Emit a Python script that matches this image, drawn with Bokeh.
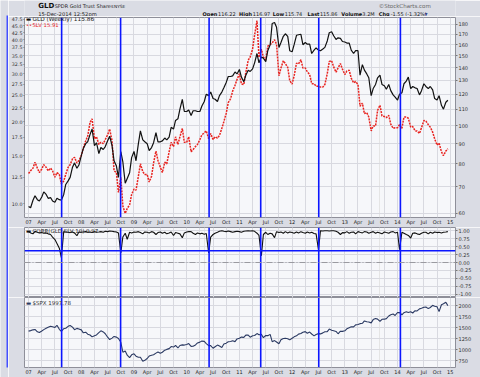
from bokeh.plotting import figure
from bokeh.models import (Range1d, LogScale, LogAxis, LinearAxis, FixedTicker,
                          NumeralTickFormatter, Span, Label, BoxAnnotation, Grid)
from bokeh.layouts import column, row
from bokeh.embed import file_html
from bokeh.resources import INLINE

# ---------------- data (semi-monthly readings: 1st and 15th of each month) ----------------
YEARS = list(range(2007, 2015))
DATES = [(y, m, d) for y in YEARS for m in range(1, 13) for d in (1, 15)]

GLD = [
    62.5, 62.0, 64.8, 66.5, 65.0, 64.5, 66.0, 68.0, 67.0, 65.5, 65.8, 64.5,
    64.0, 65.5, 65.0, 64.8, 67.0, 71.0, 72.5, 74.0, 78.5, 80.5, 78.0, 79.5,
    84.0, 87.5, 90.0, 91.0, 95.0, 98.0, 89.0, 90.5, 85.0, 88.0, 87.0, 88.5,
    91.5, 94.0, 89.0, 81.5, 79.0, 74.0, 86.0, 81.0, 71.5, 73.5, 76.0, 83.0,
    86.0, 81.5, 90.0, 97.0, 92.0, 91.0, 90.0, 86.5, 88.0, 90.5, 96.0, 91.0,
    91.0, 91.5, 93.0, 92.0, 93.5, 99.0, 98.0, 103.0, 104.0, 110.0, 116.5, 108.5,
    108.5, 109.5, 106.0, 109.0, 109.0, 108.5, 108.5, 112.0, 115.0, 120.0, 119.0, 121.5,
    117.0, 116.5, 115.0, 119.0, 121.5, 124.5, 128.5, 133.0, 133.0, 133.5, 136.5, 135.0,
    138.5, 132.5, 129.0, 134.0, 138.0, 137.0, 139.0, 144.0, 152.0, 144.0, 149.0, 148.0,
    145.0, 154.5, 160.0, 181.0, 182.0, 177.0, 157.5, 162.0, 168.0, 170.5, 168.0, 154.5,
    153.5, 160.0, 169.0, 169.5, 170.0, 160.0, 162.0, 160.5, 160.5, 152.0, 155.0, 157.0,
    155.0, 154.5, 156.0, 157.5, 163.5, 171.5, 172.5, 168.5, 165.0, 166.5, 166.0, 163.0,
    162.5, 161.5, 161.5, 155.0, 152.0, 154.5, 154.5, 134.0, 142.5, 138.0, 135.0, 132.0,
    119.0, 124.0, 127.0, 132.0, 134.0, 127.0, 126.0, 123.5, 127.0, 122.5, 119.5, 118.0,
    116.0, 120.0, 121.0, 127.5, 129.5, 132.5, 124.0, 125.5, 124.5, 124.0, 119.5, 122.5,
    127.5, 125.5, 124.0, 125.5, 123.0, 117.0, 116.0, 119.0, 112.5, 110.0, 114.5, 115.86,
]

SLV = [
    12.9, 13.2, 13.5, 14.2, 13.5, 13.0, 13.4, 13.9, 13.6, 13.2, 13.5, 13.2,
    12.5, 13.0, 12.8, 11.8, 12.1, 12.8, 13.6, 13.9, 14.6, 14.8, 14.1, 14.4,
    15.0, 16.0, 17.0, 17.7, 19.9, 20.5, 17.3, 17.6, 16.5, 16.8, 16.6, 17.2,
    17.9, 18.8, 17.0, 13.2, 13.0, 11.0, 12.5, 9.8, 9.2, 9.6, 9.9, 10.8,
    11.3, 11.2, 12.6, 14.0, 13.1, 12.8, 12.8, 12.0, 12.6, 14.1, 15.6, 14.4,
    13.6, 13.0, 14.2, 14.0, 15.5, 16.8, 16.2, 17.6, 16.5, 17.6, 18.9, 16.8,
    16.8, 17.6, 15.5, 15.8, 16.2, 16.5, 17.2, 17.9, 18.2, 18.5, 17.3, 18.1,
    17.2, 17.6, 17.4, 17.8, 18.9, 20.0, 21.5, 23.5, 24.3, 25.9, 27.2, 28.6,
    30.0, 27.5, 27.4, 30.3, 33.6, 34.6, 37.0, 41.6, 47.0, 34.5, 36.9, 34.6,
    33.7, 37.9, 38.4, 39.0, 40.0, 38.5, 29.5, 31.5, 33.5, 32.7, 31.7, 28.3,
    27.5, 29.5, 32.8, 32.6, 33.8, 31.5, 31.5, 30.5, 29.8, 27.6, 27.6, 27.0,
    27.0, 26.8, 26.8, 27.4, 30.0, 33.3, 33.5, 31.8, 30.4, 31.5, 32.7, 31.2,
    29.8, 30.7, 30.9, 28.9, 27.8, 28.1, 27.4, 22.8, 23.4, 21.4, 21.6, 20.8,
    18.5, 19.3, 19.3, 22.0, 23.0, 21.0, 20.9, 20.7, 21.1, 19.6, 18.9, 19.0,
    19.0, 19.5, 18.9, 20.8, 20.8, 20.6, 19.1, 19.2, 18.5, 18.5, 18.1, 19.0,
    20.2, 20.1, 19.5, 19.1, 18.3, 17.3, 16.4, 16.7, 15.5, 15.0, 15.6, 15.91,
]

CORR = [
    0.97, 0.93, 0.90, 0.98, 0.95, 0.93, 0.94, 0.92, 0.93, 0.90, 0.88, 0.80,
    0.72, 0.60, 0.45, 0.15, 0.97, 0.96, 0.95, 0.94, 0.96, 0.93, 0.84, 0.96,
    0.95, 0.96, 0.97, 0.95, 0.96, 0.94, 0.97, 0.95, 0.96, 0.97, 0.95, 0.98,
    0.97, 0.99, 0.98, 0.97, 0.96, 0.93, 0.30, 0.80, 0.92, 0.73, 0.95, 0.93,
    0.96, 0.95, 0.97, 0.94, 0.90, 0.96, 0.95, 0.93, 0.97, 0.95, 0.88, 0.94,
    0.96, 0.92, 0.95, 0.90, 0.93, 0.96, 0.85, 0.94, 0.92, 0.90, 0.78, 0.93,
    0.96, 0.97, 0.97, 0.92, 0.88, 0.93, 0.90, 0.92, 0.89, 0.91, 0.30, 0.80,
    0.88, 0.92, 0.95, 0.98, 1.00, 0.98, 0.97, 0.99, 0.97, 0.95, 0.97, 0.98,
    0.97, 0.95, 0.98, 0.99, 1.00, 0.99, 1.00, 0.98, 0.92, 0.85, 0.21, 0.88,
    0.95, 0.88, 0.92, 0.90, 0.78, 0.97, 0.94, 0.96, 0.92, 0.97, 0.93, 0.96,
    0.94, 0.92, 0.96, 0.93, 0.97, 0.94, 0.92, 0.96, 0.93, 0.95, 0.91, 0.90,
    0.40, 1.00, 0.99, 1.00, 1.00, 0.99, 1.00, 1.00, 0.98, 0.95, 0.88, 0.94,
    0.93, 0.97, 0.92, 0.95, 0.96, 0.90, 0.97, 0.95, 0.93, 0.97, 0.96, 0.92,
    0.95, 0.97, 0.92, 0.95, 0.93, 0.90, 0.96, 0.94, 0.92, 0.96, 0.97, 0.93,
    0.95, 0.40, 0.95, 0.92, 0.88, 0.85, 0.77, 0.92, 0.93, 0.90, 0.88, 0.92,
    0.95, 0.95, 0.90, 0.95, 0.92, 0.96, 0.94, 0.95, 0.93, 0.95, 0.96, 0.97,
]

SPX = [
    1418, 1430, 1448, 1456, 1403, 1386, 1421, 1453, 1483, 1505, 1530, 1520,
    1503, 1550, 1460, 1411, 1473, 1484, 1527, 1548, 1509, 1451, 1481, 1468,
    1447, 1380, 1395, 1349, 1331, 1288, 1316, 1332, 1385, 1425, 1400, 1360,
    1280, 1228, 1260, 1298, 1282, 1252, 1166, 940, 968, 873, 816, 880,
    903, 850, 826, 827, 735, 756, 797, 852, 873, 882, 919, 946,
    919, 940, 987, 1004, 1021, 1068, 1057, 1093, 1036, 1093, 1106, 1102,
    1115, 1136, 1073, 1075, 1105, 1150, 1169, 1192, 1186, 1136, 1089, 1092,
    1030, 1064, 1101, 1080, 1049, 1125, 1146, 1176, 1183, 1199, 1180, 1242,
    1258, 1283, 1276, 1330, 1327, 1280, 1313, 1319, 1363, 1337, 1345, 1270,
    1320, 1316, 1345, 1178, 1204, 1172, 1131, 1224, 1253, 1257, 1247, 1220,
    1258, 1289, 1312, 1351, 1365, 1395, 1408, 1370, 1397, 1353, 1310, 1342,
    1362, 1356, 1379, 1405, 1406, 1466, 1440, 1428, 1412, 1359, 1416, 1413,
    1426, 1472, 1498, 1519, 1515, 1561, 1570, 1588, 1597, 1650, 1630, 1626,
    1606, 1680, 1706, 1691, 1639, 1688, 1690, 1703, 1762, 1790, 1806, 1775,
    1842, 1839, 1790, 1838, 1859, 1841, 1857, 1830, 1883, 1877, 1924, 1936,
    1960, 1967, 1930, 1955, 2003, 1985, 1972, 1862, 2018, 2039, 2075, 1997.78,
]

EVENT_DATES = [(2007, 8, 17), (2008, 9, 30), (2010, 6, 4), (2011, 5, 27), (2012, 7, 3), (2014, 1, 21)]
CORR_LEVEL = 0.37

QUARTER_TICKS = list(range(0, 97, 3))
QUARTER_LABELS = ["07", "Apr", "Jul", "Oct", "08", "Apr", "Jul", "Oct", "09", "Apr", "Jul", "Oct",
                  "10", "Apr", "Jul", "Oct", "11", "Apr", "Jul", "Oct", "12", "Apr", "Jul", "Oct",
                  "13", "Apr", "Jul", "Oct", "14", "Apr", "Jul", "Oct", "15"]
GLD_TICKS = [60, 70, 80, 90, 100, 110, 120, 130, 140, 150, 160, 170, 180]
SLV_TICKS = [10, 12.5, 15, 17.5, 20, 22.5, 25, 27.5, 30, 32.5, 35, 37.5, 40, 42.5, 45, 47.5]
CORR_TICKS = [-1.0, -0.75, -0.5, -0.25, 0.0, 0.25, 0.5, 0.75, 1.0]
SPX_TICKS = [750, 1000, 1250, 1500, 1750, 2000]


def month_pos(y, m, d):
    return (y - 2007) * 12 + (m - 1) + (d - 1) / 30.5


X = [month_pos(*t) for t in DATES]
EVENTS = [month_pos(*t) for t in EVENT_DATES]

# ---------------- styling ----------------
FONT = "DejaVu Sans"
BG = "#f6f7fa"
BORDER = "#dadce4"
GRID = "#d8d9e0"
OUTLINE = "#8e8f99"
BLUE = "#0b16ff"
TICK_FS = "5px"
STRIP_W = 8
W, LB, RB = 472, 14, 25

xr = Range1d(-0.93, 97.2)


def style_axis(ax, fs=TICK_FS):
    ax.axis_line_color = None
    ax.major_tick_in = 0
    ax.major_tick_out = 2
    ax.minor_tick_in = 0
    ax.minor_tick_out = 0
    ax.major_tick_line_color = "#777777"
    ax.major_label_text_font = FONT
    ax.major_label_text_font_size = fs
    ax.major_label_text_color = "#333333"
    ax.major_label_standoff = 1


def base(height, top, bottom, y_range, y_type="linear"):
    p = figure(width=W, height=height, x_range=xr, y_range=y_range, y_axis_type=y_type,
               x_axis_location=None, y_axis_location="right", output_backend="svg",
               toolbar_location=None, min_border_left=LB, min_border_right=RB,
               min_border_top=top, min_border_bottom=bottom)
    p.background_fill_color = BG
    p.border_fill_color = BORDER
    p.outline_line_color = OUTLINE
    p.add_layout(Grid(dimension=0, ticker=FixedTicker(ticks=QUARTER_TICKS),
                      grid_line_color=GRID, grid_line_width=1))
    p.ygrid.grid_line_color = GRID
    for ax in p.right:
        style_axis(ax)
    for ex in EVENTS:
        p.add_layout(Span(location=ex, dimension="height", line_color=BLUE, line_width=1.6))
    return p


def bottom_axis(p):
    ax = LinearAxis(ticker=FixedTicker(ticks=QUARTER_TICKS),
                    major_label_overrides={t: lab for t, lab in zip(QUARTER_TICKS, QUARTER_LABELS)})
    style_axis(ax)
    ax.major_tick_out = 0
    ax.major_label_text_color = "#222222"
    p.add_layout(ax, "below")


def lab(p, x, y, text, size=5.5, color="#222222", bold=False, align="left", units="screen"):
    p.add_layout(Label(x=x, y=y, x_units=units, y_units=units, text=text,
                       text_font=FONT, text_font_size=f"{size}px", text_color=color,
                       text_font_style="bold" if bold else "normal",
                       text_baseline="middle", text_align=align))


# ---------------- left strip with the blue marker line ----------------
strip = figure(width=STRIP_W, height=377, x_range=Range1d(0, STRIP_W), y_range=Range1d(377, 0),
               x_axis_location=None, y_axis_location=None, output_backend="svg",
               toolbar_location=None, min_border=0)
strip.outline_line_color = None
strip.background_fill_color = BORDER
strip.border_fill_color = BORDER
strip.grid.visible = False
strip.add_layout(BoxAnnotation(left=6, right=8, top=15, bottom=367,
                               fill_color="#4450ff", fill_alpha=1, line_alpha=0))

# ---------------- header ----------------
hdr = figure(width=W, height=16, x_range=Range1d(STRIP_W, 480), y_range=Range1d(16, 0),
             x_axis_location=None, y_axis_location=None, output_backend="svg",
             toolbar_location=None, min_border=0)
hdr.outline_line_color = None
hdr.background_fill_color = BORDER
hdr.border_fill_color = BORDER
hdr.grid.visible = False
lab(hdr, 23, 5.5, "GLD", size=7, color="#111111", bold=True, units="data")
lab(hdr, 41, 5.8, "SPDR Gold Trust Shares", size=5, units="data")
lab(hdr, 106, 6.0, "NYSE", size=4.3, units="data")
lab(hdr, 453, 5.0, "\u00a9StockCharts.com", size=5.5, color="#666666", align="right", units="data")
lab(hdr, 23, 13.0, "15-Dec-2014 12:52pm", size=5.2, units="data")
QUOTE = [("Open", "116.22", 203, 220), ("High", "116.97", 243, 258),
         ("Low", "115.74", 280, 293), ("Last", "115.86", 318, 331.5),
         ("Volume", "3.2M", 355, 378), ("Chg", "-1.55 (-1.32%)", 396, 409)]
for name, val, xa, xb in QUOTE:
    lab(hdr, xa, 13.0, name, size=5, color="#111111", bold=True, units="data")
    lab(hdr, xb, 13.0, val, size=5, color="#222222", units="data")
lab(hdr, 446, 13.0, "\u25BE", size=6, color="#3a4a8a", units="data")

# ---------------- panel 1: GLD & SLV ----------------
p1 = base(211, 1, 8, Range1d(58.6, 187.4), "log")
p1.extra_y_ranges = {"slv": Range1d(8.89, 48.3)}
p1.extra_y_scales = {"slv": LogScale()}
p1.right[0].ticker = FixedTicker(ticks=GLD_TICKS)
p1.right[0].formatter = NumeralTickFormatter(format="0")
p1.ygrid.ticker = FixedTicker(ticks=GLD_TICKS)
left_ax = LogAxis(y_range_name="slv", ticker=FixedTicker(ticks=SLV_TICKS),
                  formatter=NumeralTickFormatter(format="0.0"))
style_axis(left_ax, fs="4.8px")
left_ax.major_tick_out = 1
p1.add_layout(left_ax, "left")
bottom_axis(p1)

p1.line(X, SLV, y_range_name="slv", line_color="#e8231f", line_width=1.5, line_dash="2 1")
p1.line(X, GLD, line_color="#111111", line_width=1.2)

lab(p1, 1.5, 199, "\u25AC", size=5.5, color="#111111")
lab(p1, 8, 199, "GLD (Weekly) 115.86", size=5.8, color="#222222")
lab(p1, 1.5, 193, "\u2022\u2022", size=5, color="#e8231f")
lab(p1, 8, 193, "SLV 15.91", size=5.3, color="#e8231f")

# ---------------- panel 2: correlation ----------------
p2 = base(70, 0, 0, Range1d(-1.1, 1.1))
p2.right[0].ticker = FixedTicker(ticks=CORR_TICKS)
p2.right[0].formatter = NumeralTickFormatter(format="0.00")
p2.ygrid.ticker = FixedTicker(ticks=CORR_TICKS)
p2.add_layout(Span(location=0, dimension="width", line_color="#9a9aa0", line_width=1, line_dash="6 2 1 2"))
p2.add_layout(Span(location=CORR_LEVEL, dimension="width", line_color=BLUE, line_width=1.6))
p2.line(X, CORR, line_color="#111111", line_width=1.1)
lab(p2, 1.5, 66.5, "\u25AC", size=5.5, color="#111111")
lab(p2, 8, 66.5, "CORR(GLD,SLV,10) 0.97", size=5.5, color="#222222")

# ---------------- panel 3: S&P 500 ----------------
p3 = base(80, 0, 10, Range1d(593, 2182))
p3.right[0].ticker = FixedTicker(ticks=SPX_TICKS)
p3.right[0].formatter = NumeralTickFormatter(format="0")
p3.ygrid.ticker = FixedTicker(ticks=SPX_TICKS)
bottom_axis(p3)
p3.line(X, SPX, line_color="#2b3a63", line_width=1.1)
lab(p3, 1.5, 65.0, "\u25AC", size=5.5, color="#2b3a63")
lab(p3, 8, 65.0, "$SPX 1997.78", size=5.5, color="#333333")

layout = row(strip, column(hdr, p1, p2, p3))
open("out.html", "w").write(file_html(layout, INLINE))
